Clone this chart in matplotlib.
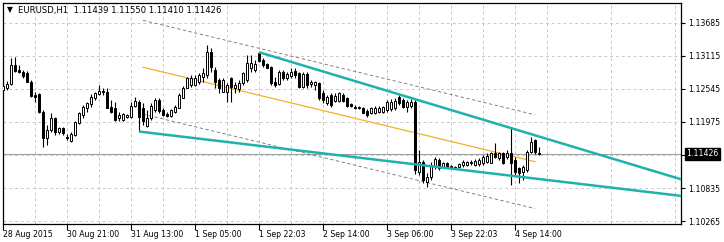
#! /usr/bin/env python3
"""
EURUSD H1 chart, MT4 look: candles, regression channel and two trend rays.
"""

import numpy as np
import matplotlib
matplotlib.use('Agg')
import matplotlib.pyplot as plt

W, H, DPI = 724, 242, 100

# hourly bars (bar 0 = first visible bar)
opens = [
    1.1253, 1.1256, 1.1263, 1.1296, 1.1287, 1.1284, 1.1282, 1.1267,
    1.1244, 1.1246, 1.1215, 1.1170, 1.1184, 1.1204, 1.1180, 1.1187,
    1.1172, 1.1165, 1.1175, 1.1196, 1.1210, 1.1222, 1.1229, 1.1239,
    1.1246, 1.1251, 1.1249, 1.1223, 1.1222, 1.1204, 1.1201, 1.1206,
    1.1206, 1.1225, 1.1232, 1.1222, 1.1191, 1.1204, 1.1218, 1.1235,
    1.1218, 1.1211, 1.1208, 1.1215, 1.1222, 1.1239, 1.1256, 1.1261,
    1.1261, 1.1267, 1.1275, 1.1279, 1.1318, 1.1287, 1.1270, 1.1249,
    1.1249, 1.1273, 1.1256, 1.1254, 1.1265, 1.1270, 1.1291, 1.1287,
    1.1317, 1.1305, 1.1298, 1.1292, 1.1267, 1.1263, 1.1284, 1.1273,
    1.1277, 1.1286, 1.1282, 1.1258, 1.1280, 1.1263, 1.1261, 1.1265,
    1.1248, 1.1230, 1.1244, 1.1234, 1.1234, 1.1244, 1.1239, 1.1229,
    1.1223, 1.1222, 1.1222, 1.1216, 1.1213, 1.1213, 1.1215, 1.1215,
    1.1218, 1.1220, 1.1222, 1.1241, 1.1235, 1.1223, 1.1225, 1.1232,
    1.1111, 1.1128, 1.1094, 1.1102, 1.1121, 1.1132, 1.1120, 1.1127,
    1.1121, 1.1120, 1.1120, 1.1123, 1.1123, 1.1127, 1.1123, 1.1125,
    1.1127, 1.1128, 1.1127, 1.1144, 1.1135, 1.1144, 1.1137, 1.1144,
    1.1132, 1.1118, 1.1111, 1.1115, 1.1146, 1.1166, 1.11439]
highs = [
    1.1268, 1.1268, 1.1308, 1.1310, 1.1296, 1.1287, 1.1286, 1.1270,
    1.1249, 1.1248, 1.1218, 1.1192, 1.1213, 1.1206, 1.1189, 1.1189,
    1.1177, 1.1180, 1.1199, 1.1215, 1.1227, 1.1232, 1.1246, 1.1249,
    1.1261, 1.1256, 1.1256, 1.1235, 1.1232, 1.1215, 1.1213, 1.1211,
    1.1232, 1.1241, 1.1235, 1.1230, 1.1218, 1.1230, 1.1239, 1.1239,
    1.1222, 1.1215, 1.1220, 1.1227, 1.1248, 1.1260, 1.1275, 1.1279,
    1.1279, 1.1282, 1.1291, 1.1330, 1.1326, 1.1292, 1.1273, 1.1273,
    1.1265, 1.1275, 1.1267, 1.1270, 1.1284, 1.1313, 1.1313, 1.1305,
    1.1318, 1.1308, 1.1299, 1.1294, 1.1275, 1.1287, 1.1287, 1.1284,
    1.1291, 1.1291, 1.1284, 1.1284, 1.1284, 1.1270, 1.1268, 1.1267,
    1.1253, 1.1244, 1.1248, 1.1248, 1.1249, 1.1248, 1.1241, 1.1230,
    1.1227, 1.1225, 1.1223, 1.1220, 1.1223, 1.1225, 1.1225, 1.1225,
    1.1235, 1.1237, 1.1239, 1.1244, 1.1239, 1.1235, 1.1237, 1.1235,
    1.1149, 1.1132, 1.1109, 1.1128, 1.1137, 1.1135, 1.1128, 1.1128,
    1.1123, 1.1121, 1.1127, 1.1132, 1.1130, 1.1132, 1.1134, 1.1135,
    1.1140, 1.1144, 1.1146, 1.1161, 1.1146, 1.1146, 1.1149, 1.1187,
    1.1137, 1.1120, 1.1123, 1.1149, 1.1172, 1.1168, 1.11550]
lows = [
    1.1249, 1.1253, 1.1261, 1.1284, 1.1282, 1.1273, 1.1267, 1.1241,
    1.1232, 1.1213, 1.1154, 1.1158, 1.1180, 1.1175, 1.1177, 1.1175,
    1.1166, 1.1163, 1.1173, 1.1194, 1.1204, 1.1215, 1.1223, 1.1235,
    1.1244, 1.1244, 1.1222, 1.1213, 1.1199, 1.1199, 1.1199, 1.1204,
    1.1204, 1.1223, 1.1180, 1.1192, 1.1189, 1.1201, 1.1215, 1.1213,
    1.1208, 1.1206, 1.1206, 1.1213, 1.1222, 1.1239, 1.1256, 1.1258,
    1.1260, 1.1263, 1.1267, 1.1273, 1.1284, 1.1256, 1.1248, 1.1249,
    1.1232, 1.1232, 1.1248, 1.1249, 1.1261, 1.1267, 1.1284, 1.1284,
    1.1301, 1.1292, 1.1291, 1.1261, 1.1258, 1.1261, 1.1270, 1.1270,
    1.1273, 1.1273, 1.1256, 1.1256, 1.1256, 1.1258, 1.1253, 1.1235,
    1.1230, 1.1227, 1.1223, 1.1232, 1.1232, 1.1232, 1.1223, 1.1223,
    1.1220, 1.1220, 1.1213, 1.1206, 1.1211, 1.1211, 1.1213, 1.1213,
    1.1215, 1.1216, 1.1218, 1.1227, 1.1222, 1.1215, 1.1222, 1.1108,
    1.1106, 1.1092, 1.1085, 1.1097, 1.1116, 1.1115, 1.1118, 1.1118,
    1.1118, 1.1116, 1.1118, 1.1120, 1.1121, 1.1123, 1.1121, 1.1121,
    1.1123, 1.1127, 1.1127, 1.1135, 1.1132, 1.1125, 1.1134, 1.1089,
    1.1106, 1.1092, 1.1097, 1.1111, 1.1144, 1.1142, 1.11410]
closes = [
    1.1260, 1.1263, 1.1296, 1.1286, 1.1284, 1.1277, 1.1267, 1.1242,
    1.1241, 1.1215, 1.1170, 1.1184, 1.1204, 1.1180, 1.1187, 1.1178,
    1.1170, 1.1177, 1.1197, 1.1213, 1.1223, 1.1230, 1.1241, 1.1248,
    1.1251, 1.1249, 1.1222, 1.1215, 1.1201, 1.1210, 1.1211, 1.1210,
    1.1225, 1.1234, 1.1206, 1.1199, 1.1204, 1.1225, 1.1235, 1.1216,
    1.1210, 1.1208, 1.1218, 1.1223, 1.1244, 1.1256, 1.1273, 1.1273,
    1.1273, 1.1279, 1.1282, 1.1318, 1.1292, 1.1267, 1.1256, 1.1270,
    1.1261, 1.1258, 1.1261, 1.1265, 1.1282, 1.1299, 1.1299, 1.1298,
    1.1303, 1.1296, 1.1291, 1.1265, 1.1261, 1.1284, 1.1273, 1.1280,
    1.1284, 1.1279, 1.1258, 1.1280, 1.1261, 1.1267, 1.1267, 1.1239,
    1.1235, 1.1241, 1.1227, 1.1242, 1.1248, 1.1234, 1.1225, 1.1225,
    1.1222, 1.1223, 1.1213, 1.1210, 1.1222, 1.1222, 1.1222, 1.1223,
    1.1232, 1.1232, 1.1234, 1.1230, 1.1223, 1.1232, 1.1232, 1.1115,
    1.1128, 1.1097, 1.1102, 1.1123, 1.1134, 1.1118, 1.1127, 1.1120,
    1.1120, 1.1118, 1.1125, 1.1128, 1.1128, 1.1128, 1.1130, 1.1132,
    1.1137, 1.1139, 1.1144, 1.1137, 1.1144, 1.1127, 1.1144, 1.1127,
    1.1111, 1.1109, 1.1120, 1.1146, 1.1163, 1.1146, 1.11426]

symbol = 'EURUSD,H1'
bid = 1.11426

# x axis labels every 16 bars
xtick_bars = [0, 16, 32, 48, 64, 80, 96, 112, 128]
xtick_labels = ['28 Aug 2015', '30 Aug 21:00', '31 Aug 13:00', '1 Sep 05:00',
                '1 Sep 22:03', '2 Sep 14:00', '3 Sep 06:00', '3 Sep 22:03',
                '4 Sep 14:00']
yticks = [1.13685, 1.13115, 1.12545, 1.11975, 1.11405, 1.10835, 1.10265]

# regression channel: start bar, end bar, centre prices, deviation
chan_bars = [35, 133]
chan_mid = [1.1292, 1.1129]
chan_dev = 0.0081

# trend rays: two anchor points each (bar, price)
upper_ray = [(64, 1.1318), (127, 1.1187)]
lower_ray = [(34, 1.1181), (134, 1.1099)]

XMIN, XMAX = -0.1, 169.5
YMIN, YMAX = 1.10222, 1.14030


def draw_candles(ax):
    x = np.arange(len(opens))
    o = np.array(opens)
    h = np.array(highs)
    l = np.array(lows)
    c = np.array(closes)
    up = c >= o
    ax.vlines(x, l, h, color='black', lw=0.8, zorder=3)
    bot = np.minimum(o, c)
    hgt = np.maximum(np.abs(c - o), 0.00002)
    ax.bar(x[up], hgt[up], 0.7, bot[up], color='white', edgecolor='black',
           lw=0.7, zorder=4)
    ax.bar(x[~up], hgt[~up], 0.7, bot[~up], color='black', edgecolor='black',
           lw=0.7, zorder=4)


def ray(ax, pts, **kw):
    (x0, y0), (x1, y1) = pts
    slope = (y1 - y0) / (x1 - x0)
    ax.plot([x0, XMAX + 1], [y0, y0 + slope * (XMAX + 1 - x0)], **kw)


def main():
    plt.rcParams['font.family'] = 'DejaVu Sans'
    plt.rcParams['font.size'] = 5.6
    fig = plt.figure(figsize=(W / DPI, H / DPI), dpi=DPI)
    ax = fig.add_axes([2.7 / W, (H - 223.5) / H, (681 - 2.7) / W, (223.5 - 3) / H])
    ax.set_xlim(XMIN, XMAX)
    ax.set_ylim(YMIN, YMAX)

    # grid
    ax.set_xticks(xtick_bars)
    ax.set_xticklabels(xtick_labels)
    ax.set_xticks(np.arange(8, 170, 16), minor=True)
    ax.set_yticks(yticks)
    ax.set_yticklabels(['{:.5f}'.format(v) if abs(v - bid) > 0.0004 else ''
                        for v in yticks])
    ax.grid(True, which='both', color='#c8c8c8', ls=(0, (3, 3)), lw=0.7,
            zorder=0)
    ax.yaxis.tick_right()
    ax.tick_params(axis='x', which='major', length=4, width=0.8, pad=1,
                   labelsize=5.6)
    ax.tick_params(axis='x', which='minor', length=0)
    ax.tick_params(axis='y', length=3, width=0.8, pad=2, labelsize=5.6)
    for t in ax.get_xticklabels():
        t.set_horizontalalignment('left')
    for sp in ax.spines.values():
        sp.set_linewidth(0.9)

    # bid line
    ax.axhline(bid, color='#a0a0a0', lw=0.8, zorder=1)

    # regression channel
    xs = chan_bars
    mid = np.array(chan_mid)
    ax.plot(xs, mid, color='#f0b428', lw=0.9, zorder=2)
    ax.plot(xs, mid + chan_dev, color='#707070', lw=0.6, ls=(0, (4, 3)), zorder=2)
    ax.plot(xs, mid - chan_dev, color='#707070', lw=0.6, ls=(0, (4, 3)), zorder=2)

    draw_candles(ax)

    ray(ax, upper_ray, color='#20b2aa', lw=1.8, zorder=5, solid_capstyle='butt')
    ray(ax, lower_ray, color='#20b2aa', lw=1.8, zorder=5, solid_capstyle='butt')

    # title and bid marker
    fig.text(7 / W, 1 - 10 / H, '\u25bc', fontsize=5.5, va='center')
    fig.text(18 / W, 1 - 10 / H,
             '{:s}  {:.5f} {:.5f} {:.5f} {:.5f}'.format(
                 symbol, opens[-1], highs[-1], lows[-1], closes[-1]),
             fontsize=6.1, va='center')
    ax.text(1.008, bid, '{:.5f}'.format(bid), transform=ax.get_yaxis_transform(),
            ha='left', va='center', color='white', fontsize=5.6, zorder=10,
            bbox=dict(facecolor='black', edgecolor='black', pad=1.2),
            clip_on=False)

    fig.savefig('out.png', dpi=DPI, facecolor='white')


if __name__ == '__main__':
    main()
